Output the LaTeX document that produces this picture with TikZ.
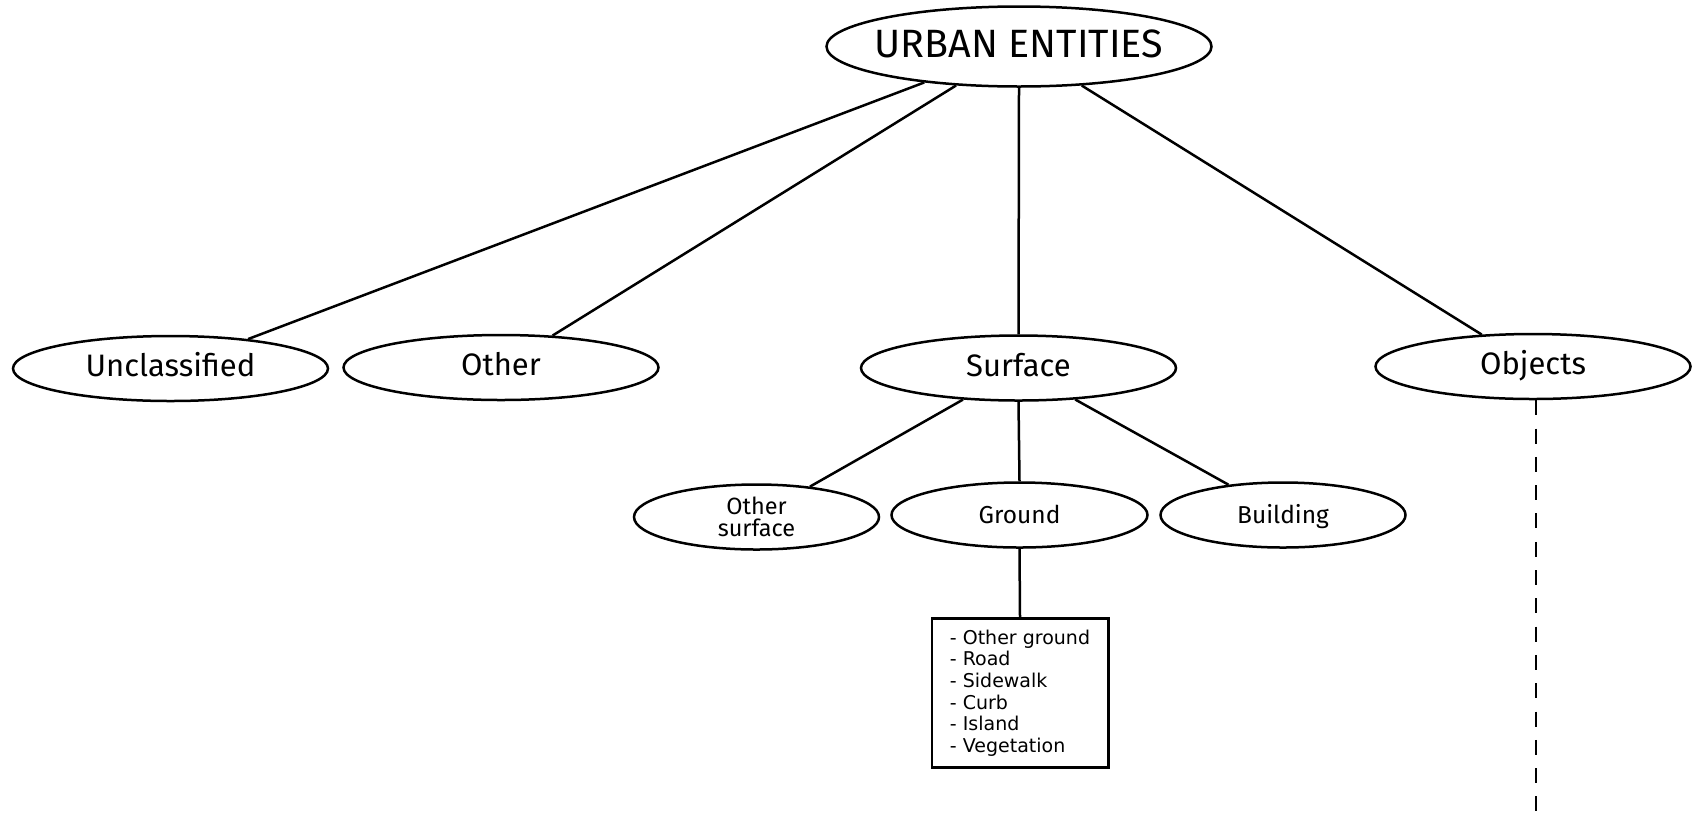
\documentclass[tikz,border=0pt]{standalone}
\usepackage{fontspec}
\setmainfont{Fira Sans}
\newfontfamily\boxfont{DejaVu Sans}
\usetikzlibrary{shapes.geometric}
\newcommand{\ctext}[1]{\makebox[0pt]{#1}}
\tikzset{
  ent/.style={draw, ellipse, line width=2.5pt, inner sep=0pt, text depth=0pt},
  topent/.style={ent, minimum width=385pt, minimum height=80pt, text height=21.6pt, font=\fontsize{39.5}{42}\selectfont},
  lvlone/.style={ent, minimum width=315pt, minimum height=65pt, text height=16pt, font=\fontsize{31}{34}\selectfont},
  lvltwo/.style={ent, minimum width=245pt, minimum height=65pt, text height=16.6pt, font=\fontsize{24.5}{20}\selectfont},
  listbox/.style={draw, rectangle, line width=2.5pt, minimum width=176.5pt, minimum height=149pt, inner sep=0pt, align=left, font=\boxfont\fontsize{19}{21.7}\selectfont},
  link/.style={line width=2.5pt},
  dashlink/.style={line width=2.7pt, dash pattern=on 15pt off 13.3pt}
}
\begin{document}
\begin{tikzpicture}[x=1pt, y=-1pt]
\useasboundingbox (0,0) rectangle (1696,820);
\node[topent] (top) at (1019,46.5) {\ctext{URBAN ENTITIES}};
\node[lvlone] (unc) at (170.5,368.5) {\ctext{Unclassified}};
\node[lvlone] (oth) at (501,367.5) {\ctext{Other}};
\node[lvlone] (sur) at (1018.5,368) {\ctext{Surface}};
\node[lvlone] (obj) at (1533,366.5) {\ctext{Objects}};
\node[lvltwo, text height=, text depth=, align=center, font=\fontsize{23.5}{21.5}\selectfont] (osf) at (756.5,517) {Other\\surface};
\node[lvltwo, minimum width=256pt] (gro) at (1019.5,515) {\ctext{Ground}};
\node[lvltwo] (bld) at (1283,515) {\ctext{Building}};
\node[listbox] (lst) at (1020,693) {- Other ground\\- Road\\- Sidewalk\\- Curb\\- Island\\- Vegetation};
\coordinate (objend) at (1536,822);
\draw[link] (top) -- (unc);
\draw[link] (top) -- (oth);
\draw[link] (top.south) -- (sur.north);
\draw[link] (top) -- (obj);
\draw[link] (sur) -- (osf);
\draw[link] (sur.south) -- (gro.north);
\draw[link] (sur) -- (bld);
\draw[link] (gro.south) -- (lst.north);
\draw[dashlink] (obj.south -| objend) -- (objend);
\end{tikzpicture}
\end{document}
